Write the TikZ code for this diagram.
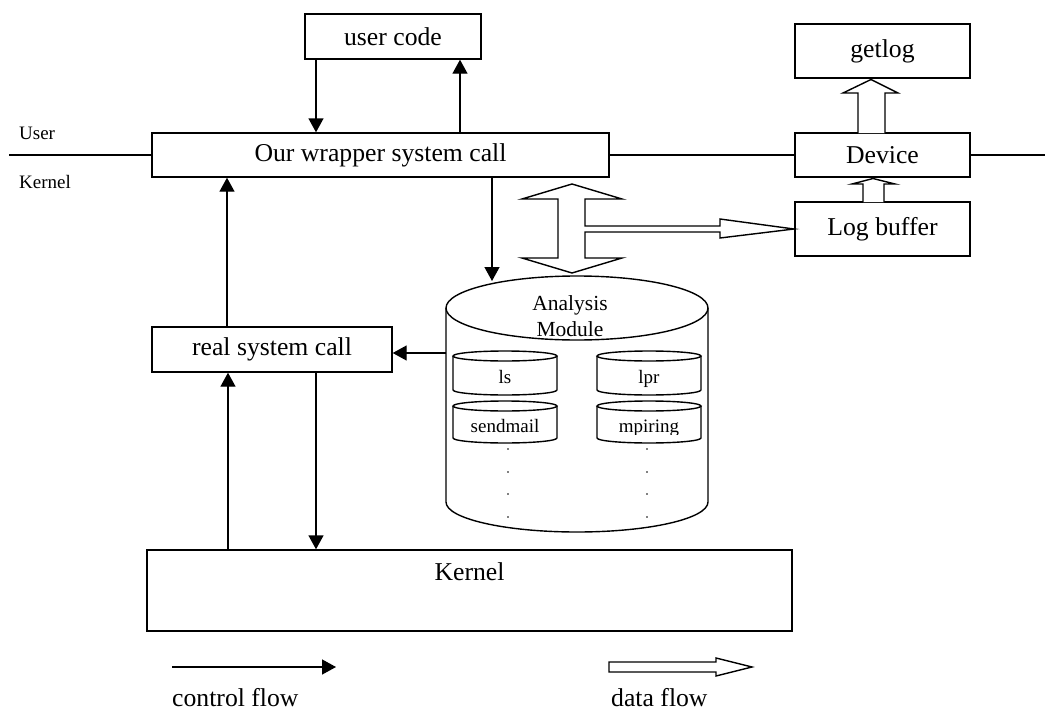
\documentclass[tikz,border=0pt]{standalone}
\usepackage{fontspec}
\setmainfont{Liberation Serif}
\usetikzlibrary{arrows.meta}
\newcommand\bigf{\fontsize{25.7}{28}\selectfont}
\newcommand\midf{\fontsize{21.5}{26}\selectfont}
\newcommand\smf{\fontsize{19}{21}\selectfont}
\begin{document}
\begin{tikzpicture}[x=1pt,y=-1pt,
  lw/.style={line width=1.4pt},
  box/.style={draw, lw, inner sep=0pt, font=\bigf},
  ctrl/.style={lw, -{Triangle[length=14pt,width=15pt]}},
  hollow/.style={lw, fill=white, line join=miter},
  txt/.style={inner sep=0pt},
]
\useasboundingbox (0,0) rectangle (1045,712);

% boxes
\node[box, minimum width=176pt, minimum height=45pt] (uc) at (393,36.5) {user code};
\node[box, minimum width=457pt, minimum height=44pt] (wr) at (380.5,155) {Our wrapper system call};
\node[box, minimum width=240pt, minimum height=45pt] (rsc) at (272,349.5) {real system call};
\node[box, minimum width=175pt, minimum height=54pt] (gl) at (882.5,51) {getlog};
\node[box, minimum width=175pt, minimum height=44pt] (dev) at (882.5,155) {Device};
\node[box, minimum width=175pt, minimum height=54pt] (lb) at (882.5,229) {Log buffer};
\node[box, minimum width=645pt, minimum height=81pt] (kern) at (469.5,590.5) {};
\node[txt, font=\bigf] (kernT) at ([yshift=18.5pt]kern.center) {Kernel};

% user / kernel boundary
\coordinate (lineL) at (9,155);
\coordinate (lineR) at (1045,155);
\draw[lw] (lineL) -- (lineL -| wr.west);
\draw[lw] (wr.east) -- (dev.west);
\draw[lw] (dev.east) -- (lineR);
\node[txt, font=\smf, anchor=base west] (userL) at (19,139) {User};
\node[txt, font=\smf, anchor=base west] (kernL) at (19,188) {Kernel};

% analysis module cylinder
\draw[lw, fill=white] (446,308) -- (446,502) arc[start angle=180, end angle=0, x radius=131, y radius=30] -- (708,308);
\draw[lw] (577,308) ellipse[x radius=131, y radius=32];
\coordinate (cylL) at (446,353);
\coordinate (cylTop) at (492,281);
\node[txt, font=\midf, align=center] (am) at (570,316) {Analysis\\Module};

% inner cylinders
\foreach \cx/\yt/\yb in {505/356/390, 649/356/390, 505/406/438, 649/406/438}{
  \draw[lw] (\cx-52,\yt) -- (\cx-52,\yb) arc[start angle=180, end angle=0, x radius=52, y radius=5] -- (\cx+52,\yt);
  \draw[lw] (\cx,\yt) ellipse[x radius=52, y radius=5];
}
\node[txt, font=\smf, anchor=base] (ls) at (505,383) {ls};
\node[txt, font=\smf, anchor=base] (lpr) at (649,383) {lpr};
\begin{scope}
  \clip (453,410) rectangle (701,434.5);
  \node[txt, font=\smf, anchor=base] (sm) at (505,432) {sendmail};
  \node[txt, font=\smf, anchor=base] (mp) at (649,432) {mpiring};
\end{scope}
\foreach \dx in {508,647}{
  \foreach \dy in {449,472,494,517}{
    \fill (\dx,\dy) circle[radius=0.9];
  }
}

% control-flow connectors
\coordinate (p1) at ([xshift=-77pt]uc.south);
\draw[ctrl] (p1) -- (p1 |- wr.north);
\coordinate (p2) at ([xshift=79.5pt]wr.north);
\draw[ctrl] (p2) -- (p2 |- uc.south);
\coordinate (p3) at ([xshift=-45pt]rsc.north);
\draw[ctrl] (p3) -- (p3 |- wr.south);
\coordinate (p4) at ([xshift=111.5pt]wr.south);
\draw[ctrl] (p4) -- (cylTop);
\draw[ctrl] (cylL) -- (cylL -| rsc.east);
\coordinate (p6) at ([xshift=-44pt]rsc.south);
\draw[ctrl] (p6 |- kern.north) -- (p6);
\coordinate (p7) at ([xshift=44pt]rsc.south);
\draw[ctrl] (p7) -- (p7 |- kern.north);

% data-flow arrows
\draw[hollow] (572,184) -- (622,199) -- (585,199) -- (585,226) -- (720,226) -- (720,219)
  -- (794,229) -- (720,238) -- (720,232) -- (585,232) -- (585,258) -- (622,258)
  -- (572,273) -- (522,258) -- (558,258) -- (558,199) -- (522,199) -- cycle;
\draw[hollow] (858,133) -- (858,93) -- (843,93) -- (871,79.5) -- (898,93) -- (885,93) -- (885,133);
\draw[hollow] (863,202) -- (863,184) -- (852,184) -- (873,178.5) -- (895,184) -- (884,184) -- (884,202);

% legend
\coordinate (cfA) at (172,667);
\coordinate (cfB) at (336,667);
\draw[ctrl] (cfA) -- (cfB);
\draw[hollow] (609,662) -- (716,662) -- (716,658) -- (752,667) -- (716,676) -- (716,672) -- (609,672) -- cycle;
\node[txt, font=\bigf, anchor=base west] (cfT) at (172,706) {control flow};
\node[txt, font=\bigf, anchor=base west] (dfT) at (611,706) {data flow};
\end{tikzpicture}
\end{document}
